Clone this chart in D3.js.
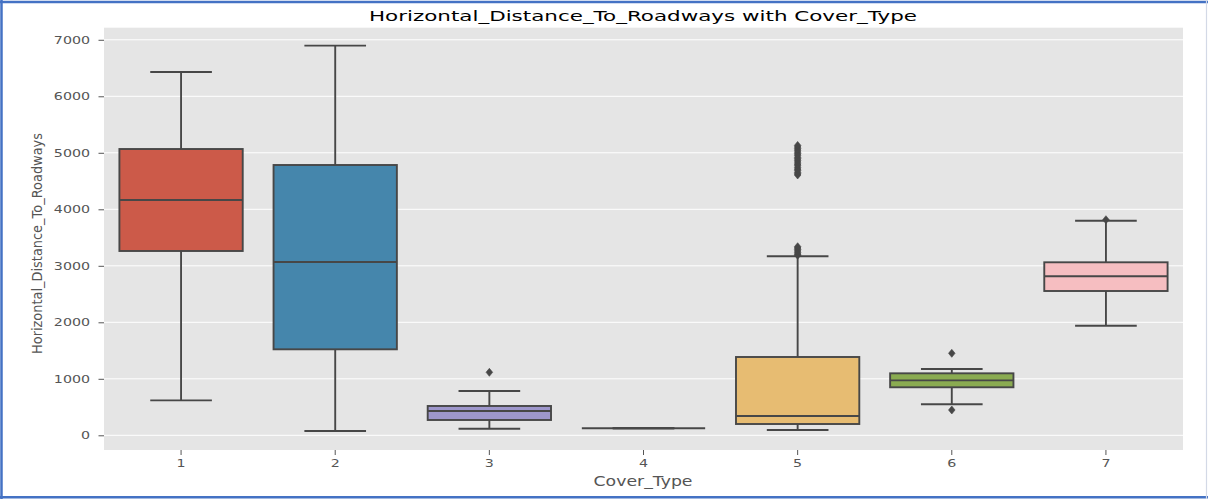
<!DOCTYPE html>
<html>
<head>
<meta charset="utf-8">
<script src="https://cdn.jsdelivr.net/npm/d3@7"></script>
<style>
  html, body { margin: 0; padding: 0; background: #ffffff; }
  svg { display: block; font-family: "DejaVu Sans", sans-serif; }
</style>
</head>
<body>
<svg id="chart" width="1208" height="499"></svg>
<script>
// ---- data ----
const categories = ["1", "2", "3", "4", "5", "6", "7"];
const whiskerLow  = [619, 76, 117, 124, 94, 549, 1940];
const q1          = [3262, 1522, 271, 124, 200, 850, 2554];
const medians     = [4165, 3067, 430, 124, 342, 973, 2814];
const q3          = [5067, 4784, 519, 124, 1386, 1097, 3062];
const whiskerHigh = [6430, 6896, 784, 124, 3168, 1173, 3798];
const outliers = [
  [],
  [],
  [1115],
  [],
  [3186, 3205, 3231, 3262, 3290, 3315, 3338,
   4607, 4628, 4655, 4690, 4712, 4745, 4781, 4803, 4836, 4868, 4895,
   4921, 4958, 4984, 5012, 5047, 5073, 5102, 5131],
  [1451, 448],
  [3816]
];
const boxColors = ["#CC5A49", "#4586AC", "#9E97CC", "#777777", "#E7BC72", "#8AAB51", "#F6BEC1"];
const yTicks = [0, 1000, 2000, 3000, 4000, 5000, 6000, 7000];
const titleText = "Horizontal_Distance_To_Roadways with Cover_Type";
const xLabelText = "Cover_Type";
const yLabelText = "Horizontal_Distance_To_Roadways";

// ---- layout ----
const plot = { left: 104, right: 1183, top: 27.7, bottom: 450 };
const lineColor = "#474747";
const textGray = "#555555";
const sx = 1.38;

const svg = d3.select("#chart");

// outer blue frame
svg.append("line").attr("x1", 0).attr("x2", 1208).attr("y1", 2).attr("y2", 2)
  .attr("stroke", "#4472C4").attr("stroke-width", 2.5);
svg.append("line").attr("x1", 1.5).attr("x2", 1.5).attr("y1", 0).attr("y2", 499)
  .attr("stroke", "#4472C4").attr("stroke-width", 2.5);
svg.append("line").attr("x1", 0).attr("x2", 1208).attr("y1", 497.3).attr("y2", 497.3)
  .attr("stroke", "#4472C4").attr("stroke-width", 2.5);
svg.append("line").attr("x1", 1206.5).attr("x2", 1206.5).attr("y1", 0).attr("y2", 499)
  .attr("stroke", "#D3D9E6").attr("stroke-width", 1.2);

const x = d3.scaleBand().domain(categories).range([plot.left, plot.right]).padding(0);
const y = d3.scaleLinear().domain([-260, 7214]).range([plot.bottom, plot.top]);

// plot background
svg.append("rect")
  .attr("x", plot.left).attr("y", plot.top)
  .attr("width", plot.right - plot.left).attr("height", plot.bottom - plot.top)
  .attr("fill", "#E5E5E5");

// gridlines
svg.append("g").selectAll("line").data(yTicks).join("line")
  .attr("x1", plot.left).attr("x2", plot.right)
  .attr("y1", d => y(d)).attr("y2", d => y(d))
  .attr("stroke", "#ffffff").attr("stroke-width", 1);

// y axis
const yAxis = svg.append("g").attr("transform", `translate(${plot.left},0)`)
  .call(d3.axisLeft(y).tickValues(yTicks).tickSize(5.5).tickFormat(d3.format("d")));
yAxis.select(".domain").remove();
yAxis.selectAll(".tick line").attr("stroke", textGray).attr("stroke-width", 1);
yAxis.selectAll(".tick text")
  .attr("x", 0).attr("dy", "0.35em")
  .attr("transform", `translate(-14,0) scale(${sx},1)`)
  .attr("fill", textGray).attr("font-size", 10.3)
  .attr("font-family", "DejaVu Sans").attr("text-anchor", "end");

// x axis
const xAxis = svg.append("g").attr("transform", `translate(0,${plot.bottom})`)
  .call(d3.axisBottom(x).tickSize(5));
xAxis.select(".domain").remove();
xAxis.selectAll(".tick line").attr("stroke", textGray).attr("stroke-width", 1);
xAxis.selectAll(".tick text")
  .attr("y", 17).attr("dy", 0)
  .attr("transform", `scale(${sx},1)`)
  .attr("fill", textGray).attr("font-size", 10.3)
  .attr("font-family", "DejaVu Sans").attr("text-anchor", "middle");

// boxes
const bw = x.bandwidth() * 0.8;
const capW = bw * 0.5;
const boxes = svg.append("g");
categories.forEach((c, i) => {
  const cx = x(c) + x.bandwidth() / 2;
  const g = boxes.append("g");
  g.append("line").attr("x1", cx).attr("x2", cx)
    .attr("y1", y(q3[i])).attr("y2", y(whiskerHigh[i]))
    .attr("stroke", lineColor).attr("stroke-width", 1.9);
  g.append("line").attr("x1", cx).attr("x2", cx)
    .attr("y1", y(q1[i])).attr("y2", y(whiskerLow[i]))
    .attr("stroke", lineColor).attr("stroke-width", 1.9);
  [whiskerHigh[i], whiskerLow[i]].forEach(v => {
    g.append("line").attr("x1", cx - capW / 2).attr("x2", cx + capW / 2)
      .attr("y1", y(v)).attr("y2", y(v))
      .attr("stroke", lineColor).attr("stroke-width", 1.9);
  });
  g.append("rect")
    .attr("x", cx - bw / 2).attr("width", bw)
    .attr("y", y(q3[i])).attr("height", Math.max(0, y(q1[i]) - y(q3[i])))
    .attr("fill", boxColors[i]).attr("stroke", lineColor).attr("stroke-width", 1.9);
  g.append("line").attr("x1", cx - bw / 2).attr("x2", cx + bw / 2)
    .attr("y1", y(medians[i])).attr("y2", y(medians[i]))
    .attr("stroke", lineColor).attr("stroke-width", 1.9);
  g.selectAll("path.fl").data(outliers[i]).join("path")
    .attr("class", "fl")
    .attr("d", d => {
      const py = y(d), hw = 3.3, hh = 4;
      return `M${cx},${py - hh}L${cx + hw},${py}L${cx},${py + hh}L${cx - hw},${py}Z`;
    })
    .attr("fill", lineColor).attr("stroke", lineColor).attr("stroke-width", 0.6);
});

// title
svg.append("text")
  .attr("x", 643).attr("y", 20.7)
  .attr("text-anchor", "middle")
  .attr("font-size", 14.8).attr("fill", "#000000")
  .attr("textLength", 548).attr("lengthAdjust", "spacingAndGlyphs")
  .text(titleText);

// x label
svg.append("text")
  .attr("x", 643).attr("y", 486)
  .attr("text-anchor", "middle")
  .attr("font-size", 13.5).attr("fill", textGray)
  .attr("textLength", 99).attr("lengthAdjust", "spacingAndGlyphs")
  .text(xLabelText);

// y label
svg.append("text")
  .attr("transform", "translate(42,243.5) rotate(-90)")
  .attr("x", 0).attr("y", 0)
  .attr("text-anchor", "middle")
  .attr("font-size", 13.5).attr("fill", textGray)
  .attr("textLength", 221).attr("lengthAdjust", "spacingAndGlyphs")
  .text(yLabelText);
</script>
</body>
</html>
